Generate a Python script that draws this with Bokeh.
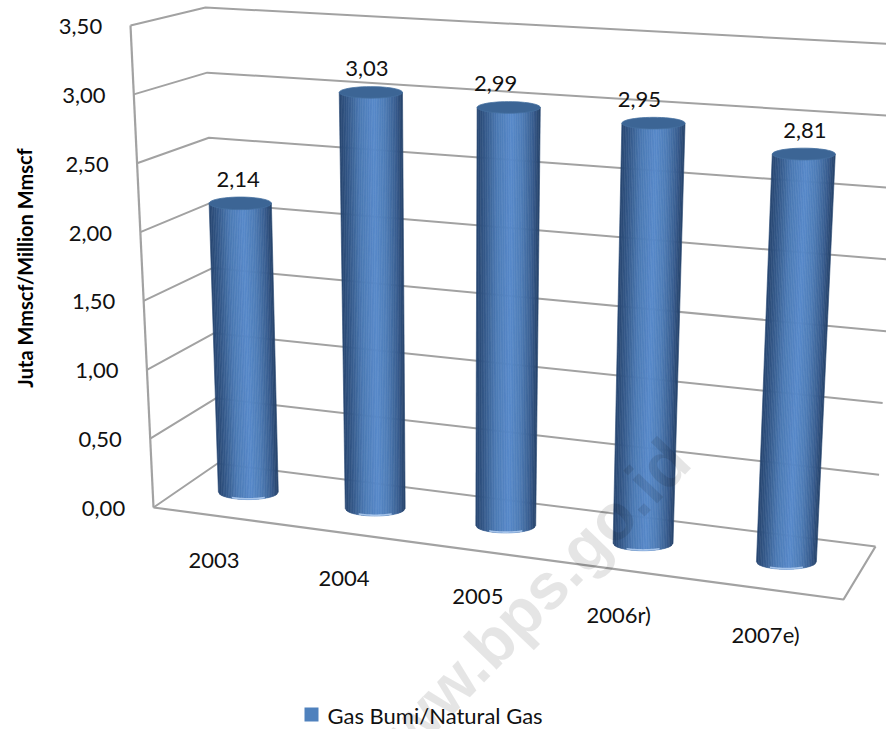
import math
from bokeh.core.properties import value
from bokeh.embed import file_html
from bokeh.models import Range1d
from bokeh.plotting import figure
from bokeh.resources import INLINE

# Chart content
categories = ["2003", "2004", "2005", "2006r)", "2007e)"]
gas_values = [2.14, 3.03, 2.99, 2.95, 2.81]
value_labels = ["2,14", "3,03", "2,99", "2,95", "2,81"]
axis_ticks = [0.0, 0.5, 1.0, 1.5, 2.0, 2.5, 3.0, 3.5]
axis_tick_labels = ["0,00", "0,50", "1,00", "1,50", "2,00", "2,50", "3,00", "3,50"]
axis_max = 3.5
axis_title = "Juta Mmscf/Million  Mmscf"
legend_label = "Gas Bumi/Natural  Gas"

# Perspective box: screen corners as (across, depth, height)
BOX = {
    (0, 0, 0): (153, 507), (0, 1, 0): (217, 463), (1, 1, 0): (875, 546), (1, 0, 0): (843, 599),
    (0, 0, 1): (130, 25), (0, 1, 1): (205, 7), (1, 1, 1): (900, 44), (1, 0, 1): (871, 74),
}
SLOTS = [0.0905, 0.279, 0.473, 0.677, 0.890]   # bar centres along the floor
BAR_DEPTH = 0.53
BAR_RADIUS = 0.0445
CAP_HALF_HEIGHT = (7.5, 5.5)                   # ellipse half height at floor / at axis top
LABEL_NUDGE = [-2, -4, -13, -14, 1]
FONT = value("Lato")
TEXT_COLOR = "#111111"
GRID = "#a2a2a2"


def project(u, d, v):
    """Trilinear mapping of a box position to screen coordinates; v is in data units."""
    t = v / axis_max
    x = y = 0.0
    for (a, b, c), (px, py) in BOX.items():
        w = (u if a else 1 - u) * (d if b else 1 - d) * (t if c else 1 - t)
        x += w * px
        y += w * py
    return x, y


def lerp_color(c1, c2, t):
    return tuple(c1[i] + (c2[i] - c1[i]) * t for i in range(3))


STOPS = [(-1.0, (40, 70, 112)), (-0.75, (52, 88, 136)), (-0.35, (76, 122, 180)), (0.1, (88, 138, 202)),
         (0.45, (78, 124, 182)), (0.8, (56, 92, 142)), (1.0, (38, 66, 106))]


def shade(s):
    for (s0, c0), (s1, c1) in zip(STOPS, STOPS[1:]):
        if s <= s1:
            r, g, b = lerp_color(c0, c1, (s - s0) / (s1 - s0))
            return "#%02x%02x%02x" % (round(r), round(g), round(b))
    return "#264269"


p = figure(width=886, height=729, x_range=Range1d(0, 886), y_range=Range1d(729, 0),
           output_backend="svg", toolbar_location=None, min_border=0,
           x_axis_type=None, y_axis_type=None, outline_line_color=None)
p.grid.visible = False
p.background_fill_color = "white"
p.border_fill_color = "white"

# Wall gridlines: left wall edge -> back corner -> far right
for tick in axis_ticks:
    pts = [project(0, 0, tick), project(0, 1, tick), project(1, 1, tick)]
    p.line([q[0] for q in pts], [q[1] for q in pts], line_color=GRID, line_width=2)

# Left wall edge and floor outline
pts = [project(0, 0, 0), project(0, 0, axis_max)]
p.line([q[0] for q in pts], [q[1] for q in pts], line_color=GRID, line_width=2.2)
pts = [project(0, 0, 0), project(1, 0, 0), project(1, 1, 0)]
p.line([q[0] for q in pts], [q[1] for q in pts], line_color=GRID, line_width=2.2)

# Cylinders, built from narrow vertical strips
N = 36
for u, val in zip(SLOTS, gas_values):
    bl = project(u - BAR_RADIUS, BAR_DEPTH, 0)
    br = project(u + BAR_RADIUS, BAR_DEPTH, 0)
    tl = project(u - BAR_RADIUS, BAR_DEPTH, val)
    tr = project(u + BAR_RADIUS, BAR_DEPTH, val)
    bcx, bcy, bw = (bl[0] + br[0]) / 2, (bl[1] + br[1]) / 2, (br[0] - bl[0]) / 2
    tcx, tcy, tw = (tl[0] + tr[0]) / 2, (tl[1] + tr[1]) / 2, (tr[0] - tl[0]) / 2
    hb = CAP_HALF_HEIGHT[0]
    ht = CAP_HALF_HEIGHT[0] + (CAP_HALF_HEIGHT[1] - CAP_HALF_HEIGHT[0]) * val / axis_max

    xs, ys, colors = [], [], []
    for i in range(N):
        s0, s1 = -1 + 2 * i / N, -1 + 2 * (i + 1) / N
        a0, a1 = math.sqrt(max(0, 1 - s0 * s0)), math.sqrt(max(0, 1 - s1 * s1))
        xs.append([tcx + s0 * tw, tcx + s1 * tw, bcx + s1 * bw, bcx + s0 * bw])
        ys.append([tcy, tcy, bcy + hb * a1, bcy + hb * a0])
        colors.append(shade((s0 + s1) / 2))
    p.patches(xs, ys, fill_color=colors, line_color=colors, line_width=0.6)

    # Light rim along the lower edge
    rim_s = [-0.55 + 1.1 * i / 16 for i in range(17)]
    rim_x = [bcx + s * bw for s in rim_s]
    rim_y = [bcy + hb * math.sqrt(1 - s * s) for s in rim_s]
    rim_inner = [y - 1.6 for y in rim_y]
    p.patch(rim_x + rim_x[::-1], rim_y + rim_inner[::-1], fill_color="#a6c4ea", line_color=None)

    # Top cap
    cap = [2 * math.pi * i / 48 for i in range(48)]
    p.patch([tcx + tw * math.cos(a) for a in cap], [tcy + ht * math.sin(a) for a in cap],
            fill_color="#3c6595", line_color="#45709f", line_width=0.8)

# Value labels above the bars
for u, val, text, nudge in zip(SLOTS, gas_values, value_labels, LABEL_NUDGE):
    x, y = project(u, BAR_DEPTH, val)
    p.text([x + nudge], [y - 24], text=[text], text_font=FONT, text_font_size="22px",
           text_color=TEXT_COLOR, text_align="center", text_baseline="middle")

# Category labels below the front floor edge
for u, text in zip(SLOTS, categories):
    x, y = project(u, 0, 0)
    p.text([x - 2], [y + 45], text=[text], text_font=FONT, text_font_size="22px",
           text_color=TEXT_COLOR, text_align="center", text_baseline="middle")

# Value axis labels beside the left wall
for tick, text in zip(axis_ticks, axis_tick_labels):
    x, y = project(0, 0, tick)
    p.text([x - 50], [y + 1], text=[text], text_font=FONT, text_font_size="22px",
           text_color=TEXT_COLOR, text_align="center", text_baseline="middle")

# Axis title
p.text([24], [265], text=[axis_title], angle=[math.pi / 2], text_font=FONT, text_font_size="20px",
       text_font_style="bold", text_color="#000000", text_align="center", text_baseline="middle")

# Legend
p.rect([311], [714], width=[14], height=[14], fill_color="#4f81bd", line_color=None)
p.text([327], [715], text=[legend_label], text_font=FONT, text_font_size="22px",
       text_color=TEXT_COLOR, text_align="left", text_baseline="middle")

# Watermark across the chart
p.text([519], [613], text=["www.bps.go.id"], angle=[math.radians(46)],
       text_font=value("Liberation Sans"), text_font_style="bold", text_font_size="65px",
       text_color="#000000", text_alpha=0.1, text_align="center", text_baseline="middle")

open("out.html", "w").write(file_html(p, INLINE))
